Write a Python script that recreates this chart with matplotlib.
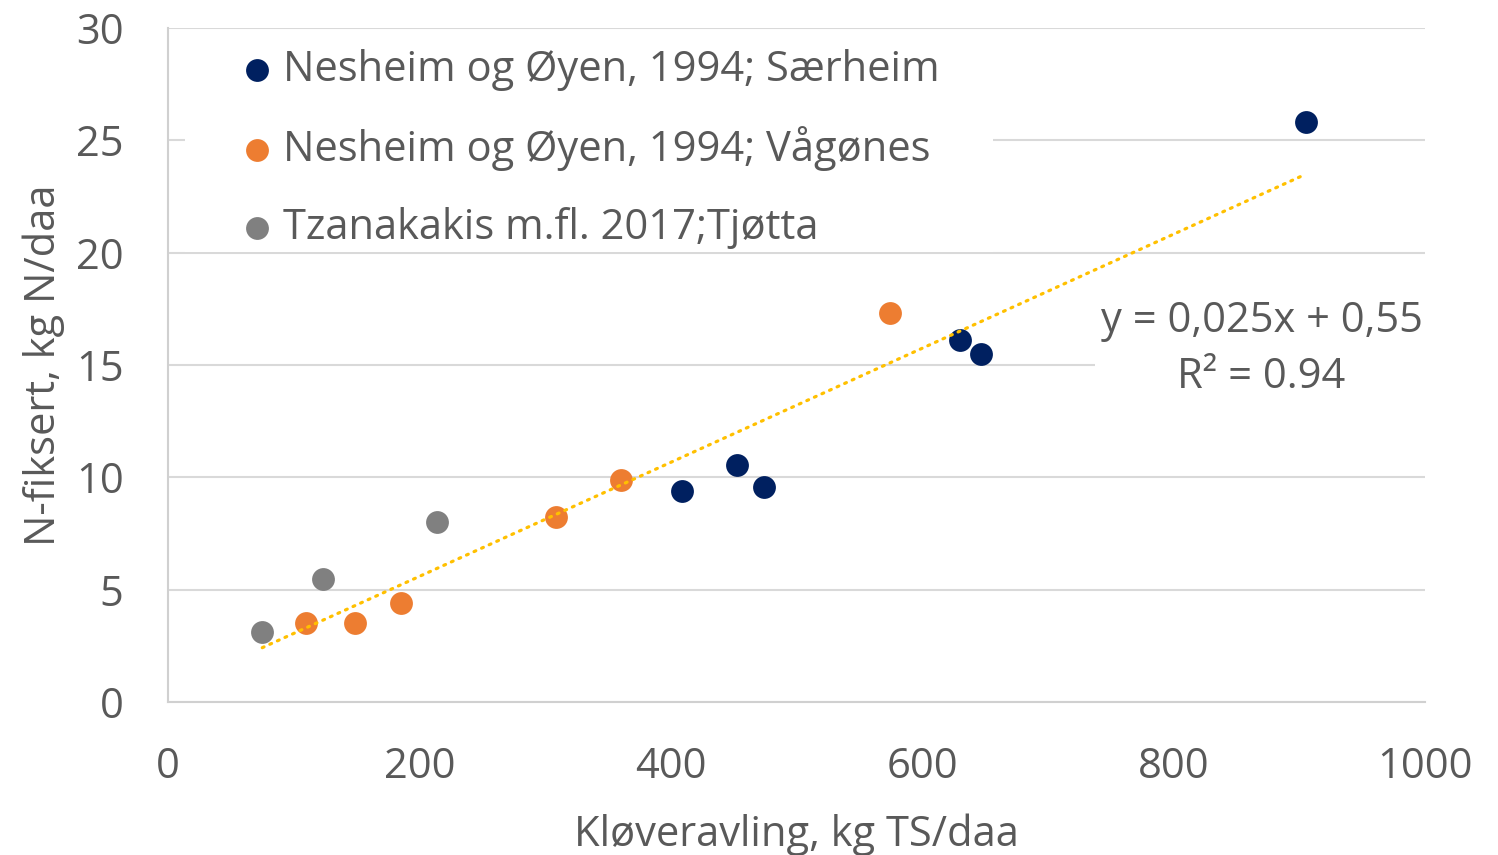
import numpy as np
import matplotlib.pyplot as plt
from matplotlib.patches import Rectangle

# data
saerheim_x = [905, 630, 647, 453, 409, 474]
saerheim_y = [25.8, 16.1, 15.5, 10.55, 9.4, 9.57]

vagones_x = [574, 360, 309, 185, 149, 110]
vagones_y = [17.3, 9.88, 8.23, 4.4, 3.5, 3.5]

tjotta_x = [75, 123, 214]
tjotta_y = [3.1, 5.47, 8.0]

labels = ['Nesheim og Øyen, 1994; Særheim',
          'Nesheim og Øyen, 1994; Vågønes',
          'Tzanakakis m.fl. 2017;Tjøtta']
colors = ['#002060', '#ED7D31', '#808080']

text_color = '#595959'
plt.rcParams['font.family'] = ['Open Sans', 'DejaVu Sans']

fig = plt.figure(figsize=(14.98, 8.55), dpi=100)
ax = fig.add_axes([168 / 1498, 1 - 702 / 855, (1425 - 168) / 1498, (702 - 28) / 855])

ax.scatter(saerheim_x, saerheim_y, s=270, color=colors[0], label=labels[0], zorder=3, linewidths=0)
ax.scatter(vagones_x, vagones_y, s=270, color=colors[1], label=labels[1], zorder=3, linewidths=0)
ax.scatter(tjotta_x, tjotta_y, s=270, color=colors[2], label=labels[2], zorder=3, linewidths=0)

# linear trendline through all points
all_x = np.array(saerheim_x + vagones_x + tjotta_x, dtype=float)
all_y = np.array(saerheim_y + vagones_y + tjotta_y, dtype=float)
slope, intercept = np.polyfit(all_x, all_y, 1)
tx = np.array([all_x.min(), all_x.max()])
ax.plot(tx, slope * tx + intercept, color='#FFC000', linewidth=2.3,
        linestyle=(0, (0.6, 2.0)), dash_capstyle='round', zorder=4)

ax.set_xlim(0, 1000)
ax.set_ylim(0, 30)
ax.set_xticks(range(0, 1001, 200))
ax.set_yticks(range(0, 31, 5))
ax.grid(True, axis='y', color='#D9D9D9', linewidth=1.5)
ax.set_axisbelow(True)
for s in ['top', 'right']:
    ax.spines[s].set_visible(False)
for s in ['left', 'bottom']:
    ax.spines[s].set_color('#D0D0D0')
    ax.spines[s].set_linewidth(1.5)
ax.tick_params(axis='y', length=0, labelsize=30, colors=text_color, pad=32)
ax.tick_params(axis='x', length=0, labelsize=30, colors=text_color, pad=32)

ax.set_xlabel('Kløveravling, kg TS/daa', fontsize=30, color=text_color, labelpad=18)
ax.set_ylabel('N-fiksert, kg N/daa', fontsize=30, color=text_color, labelpad=8)

# white area behind the legend hides the gridlines there
ax.add_patch(Rectangle((17 / 1257, 1 - 224 / 674), (993 - 185) / 1257, 220 / 674,
                       transform=ax.transAxes, facecolor='white', edgecolor='none', zorder=2))

leg = ax.legend(loc='upper left', bbox_to_anchor=(0.061, 0.969), fontsize=30,
                frameon=False, handlelength=0.6, handletextpad=0.32, labelspacing=0.85,
                borderpad=0, borderaxespad=0, markerscale=1.0, labelcolor=text_color)

ax.text(870, 15.72, 'y = 0,025x + 0,55\nR² = 0.94', fontsize=30, color=text_color,
        ha='center', va='center', linespacing=1.42, zorder=5,
        bbox=dict(facecolor='white', edgecolor='none', pad=4))

fig.savefig('out.png', dpi=100)
